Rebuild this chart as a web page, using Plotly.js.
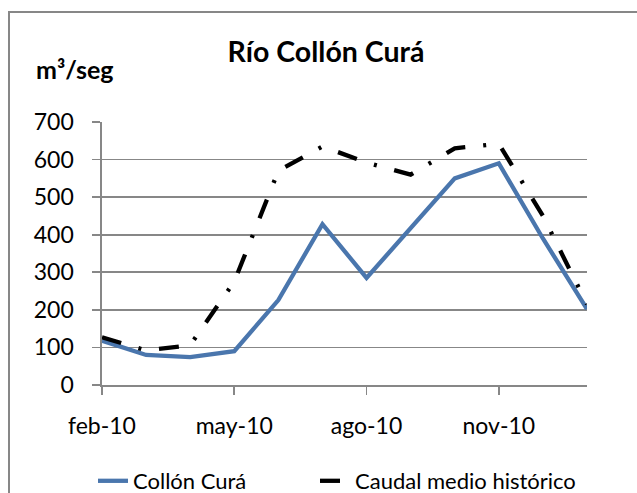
<!DOCTYPE html>
<html>
<head>
<meta charset="utf-8">
<script src="https://cdn.plot.ly/plotly-3.0.1.min.js"></script>
<style>
  html, body { margin: 0; padding: 0; background: #ffffff; }
  #chart { width: 637px; height: 493px; }
</style>
</head>
<body>
<div id="chart"></div>
<script>
// Data
const months = ["feb-10","mar-10","abr-10","may-10","jun-10","jul-10","ago-10","sep-10","oct-10","nov-10","dic-10","ene-11"];
const tickMonths = ["feb-10","may-10","ago-10","nov-10"];
const collonCura = [118, 80, 74, 90, 226, 428, 285, 418, 550, 590, 390, 202];
const caudalMedio = [127, 92, 106, 275, 570, 635, 592, 560, 630, 642, 450, 215];

const FONT = "Lato, 'Open Sans', sans-serif";
const GRID = "#878787";

const traces = [
  {
    x: months, y: collonCura, type: "scatter", mode: "lines",
    name: "Collón Curá", legend: "legend",
    line: { color: "#4a76ad", width: 4.3 }
  },
  {
    x: months, y: caudalMedio, type: "scatter", mode: "lines",
    name: "Caudal medio histórico", legend: "legend2",
    line: { color: "#000000", width: 4.3, dash: "20px,18px,3px,18px" }
  }
];

const legendBase = {
  orientation: "h",
  xref: "container", xanchor: "left",
  y: 12 / 493, yref: "container", yanchor: "middle",
  font: { family: FONT, size: 22, color: "#000000" },
  bgcolor: "rgba(0,0,0,0)", borderwidth: 0
};

const layout = {
  width: 637, height: 493,
  margin: { l: 102, r: 50, t: 122, b: 108, autoexpand: false },
  paper_bgcolor: "#ffffff", plot_bgcolor: "#ffffff",
  font: { family: FONT, size: 23, color: "#000000" },
  showlegend: true,
  title: {
    text: "<b>Río Collón Curá</b>",
    font: { family: FONT, size: 28.5, color: "#000000" },
    xref: "container", yref: "container",
    x: 326 / 637, xanchor: "center",
    y: 1 - 52 / 493, yanchor: "middle"
  },
  xaxis: {
    type: "category",
    range: [0, months.length - 1],
    tickvals: tickMonths, ticktext: tickMonths,
    tickangle: 0,
    showgrid: false, zeroline: false,
    showline: true, linecolor: GRID, linewidth: 1.6,
    ticks: "outside", ticklen: 8, tickwidth: 1.6, tickcolor: GRID,
    ticklabelstandoff: 12,
    tickfont: { family: FONT, size: 23, color: "#000000" },
    automargin: false,
    fixedrange: true
  },
  yaxis: {
    range: [0, 700], dtick: 100, tick0: 0,
    showgrid: true, gridcolor: GRID, gridwidth: 1.6,
    zeroline: false,
    showline: true, linecolor: GRID, linewidth: 1.6,
    ticks: "outside", ticklen: 8, tickwidth: 1.6, tickcolor: GRID,
    ticklabelstandoff: 14,
    tickfont: { family: FONT, size: 23, color: "#000000" },
    automargin: false,
    fixedrange: true
  },
  legend: Object.assign({}, legendBase, { x: 93 / 637 }),
  legend2: Object.assign({}, legendBase, { x: 315 / 637 }),
  annotations: [
    {
      text: "<b>m³/seg</b>",
      xref: "paper", yref: "paper",
      x: (34 - 102) / 485, xanchor: "left",
      y: (385 - 69) / 263, yanchor: "middle",
      showarrow: false,
      font: { family: FONT, size: 25, color: "#000000" }
    }
  ],
  shapes: [
    {
      type: "rect", xref: "paper", yref: "paper",
      x0: (9 - 102) / 485, x1: (660 - 102) / 485,
      y0: (385 - 520) / 263, y1: (385 - 12) / 263,
      line: { color: GRID, width: 2 }, fillcolor: "rgba(0,0,0,0)",
      layer: "below"
    }
  ]
};

Plotly.newPlot("chart", traces, layout, { displayModeBar: false, staticPlot: true });
</script>
</body>
</html>
